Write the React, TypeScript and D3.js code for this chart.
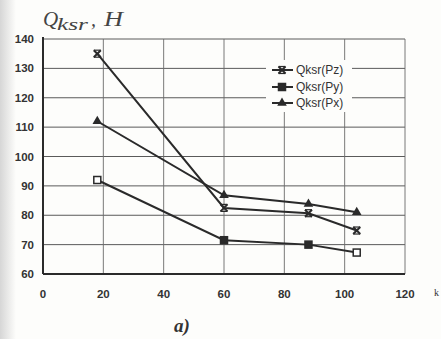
import React from "react";
import * as d3 from "d3";

const xTicks = [0, 20, 40, 60, 80, 100, 120];
const yTicks = [60, 70, 80, 90, 100, 110, 120, 130, 140];
const xPz = [18, 60, 88, 104];
const yPz = [135, 82.5, 80.7, 74.8];
const xPy = [18, 60, 88, 104];
const yPy = [92, 71.5, 70, 67.3];
const xPx = [18, 60, 88, 104];
const yPx = [112, 86.8, 83.8, 81];
const seriesNames = ["Qksr(Pz)", "Qksr(Py)", "Qksr(Px)"];
const markers = ["x", "square", "triangle"];

const W = 441, H = 339;
const M = { left: 43, right: 36, top: 39, bottom: 65 };

export default function App() {
  const x = d3.scaleLinear().domain([0, 120]).range([M.left, W - M.right]);
  const y = d3.scaleLinear().domain([60, 140]).range([H - M.bottom, M.top]);
  const line = d3.line<[number, number]>().x(d => x(d[0])).y(d => y(d[1]));
  const series = [
    { xs: xPz, ys: yPz, m: markers[0] },
    { xs: xPy, ys: yPy, m: markers[1] },
    { xs: xPx, ys: yPx, m: markers[2] },
  ];
  const col = "#2a2a2a";
  const marker = (m: string, cx: number, cy: number, key: string, hollow = false) => {
    if (m === "x") {
      return (
        <g key={key} stroke={col} strokeWidth={2}>
          <line x1={cx - 3.5} y1={cy - 3.5} x2={cx + 3.5} y2={cy + 3.5} />
          <line x1={cx - 3.5} y1={cy + 3.5} x2={cx + 3.5} y2={cy - 3.5} />
          <line x1={cx - 3.5} y1={cy - 3.5} x2={cx + 3.5} y2={cy - 3.5} strokeWidth={1.2} />
          <line x1={cx - 3.5} y1={cy + 3.5} x2={cx + 3.5} y2={cy + 3.5} strokeWidth={1.2} />
        </g>
      );
    }
    if (m === "square") {
      return (
        <rect key={key} x={cx - 3.5} y={cy - 3.5} width={7} height={7}
          fill={hollow ? "#fff" : col} stroke={col} strokeWidth={1.5} />
      );
    }
    const tri = d3.symbol(d3.symbolTriangle, 40)();
    return <path key={key} d={tri || ""} transform={`translate(${cx},${cy})`} fill={col} />;
  };
  const legY = [70, 87, 103];
  const serif = "Liberation Serif, serif";
  return (
    <svg width={W} height={H} viewBox={`0 0 ${W} ${H}`} style={{ position: "absolute", left: 0, top: 0, background: "#fdfdfb" }}>
      <defs>
        <linearGradient id="edge" x1="0" x2="1" y1="0" y2="0">
          <stop offset="0" stopColor="#d6d6d6" />
          <stop offset="1" stopColor="#fdfdfb" />
        </linearGradient>
      </defs>
      <rect x={0} y={0} width={W} height={H} fill="#fdfdfb" />
      <rect x={0} y={0} width={16} height={H} fill="url(#edge)" />
      {yTicks.filter(t => t > 60).map(t => (
        <line key={"gy" + t} x1={x(0)} x2={x(120)} y1={y(t)} y2={y(t)} stroke="#5a5a5a" strokeWidth={1} />
      ))}
      {xTicks.filter(t => t > 0).map(t => (
        <line key={"gx" + t} x1={x(t)} x2={x(t)} y1={y(60)} y2={y(140)} stroke="#6a6a6a" strokeWidth={0.9} />
      ))}
      <line x1={x(0)} x2={x(0)} y1={y(140) - 2} y2={y(60)} stroke={col} strokeWidth={2} />
      <line x1={x(0)} x2={x(120)} y1={y(60)} y2={y(60)} stroke={col} strokeWidth={2} />
      <rect x={266} y={60} width={86} height={52} fill="#fdfdfb" />
      {series.map((s, i) => (
        <path key={"l" + i} d={line(s.xs.map((v, j) => [v, s.ys[j]] as [number, number])) || ""}
          fill="none" stroke={col} strokeWidth={2} />
      ))}
      {series.map((s, i) =>
        s.xs.map((v, j) => marker(s.m, x(v), y(s.ys[j]), `m${i}-${j}`, s.m === "square" && (j === 0 || j === 3)))
      )}
      {yTicks.map(t => (
        <text key={"ty" + t} x={34} y={y(t) + 4} textAnchor="end" fontFamily="Liberation Sans, Arial, sans-serif"
          fontSize={11.5} fontWeight="bold" fill="#333">{t}</text>
      ))}
      {xTicks.map(t => (
        <text key={"tx" + t} x={x(t)} y={298} textAnchor="middle" fontFamily="Liberation Sans, Arial, sans-serif"
          fontSize={11.5} fontWeight="bold" fill="#333">{t}</text>
      ))}
      <text x={434} y={296} fontFamily={serif} fontSize={10} fill="#333">k</text>
      {seriesNames.map((n, i) => (
        <g key={"lg" + i}>
          <line x1={272} x2={293} y1={legY[i]} y2={legY[i]} stroke={col} strokeWidth={2} />
          {marker(markers[i], 282, legY[i], "lm" + i)}
          <text x={296} y={legY[i] + 4} fontFamily="Liberation Sans, Arial, sans-serif" fontSize={12} fill="#333">{n}</text>
        </g>
      ))}
      <g fontFamily={serif} fontStyle="italic" fill="#444">
        <text x={43} y={26} fontSize={21}>Q</text>
        <text x={57} y={30} fontSize={17} textLength={31} lengthAdjust="spacingAndGlyphs">ksr</text>
        <text x={91} y={26} fontSize={20}>,</text>
        <text x={104} y={26} fontSize={20} textLength={19} lengthAdjust="spacingAndGlyphs">H</text>
      </g>
      <text x={174} y={332} fontFamily={serif} fontStyle="italic" fontWeight="bold" fontSize={19} fill="#333">a)</text>
    </svg>
  );
}
